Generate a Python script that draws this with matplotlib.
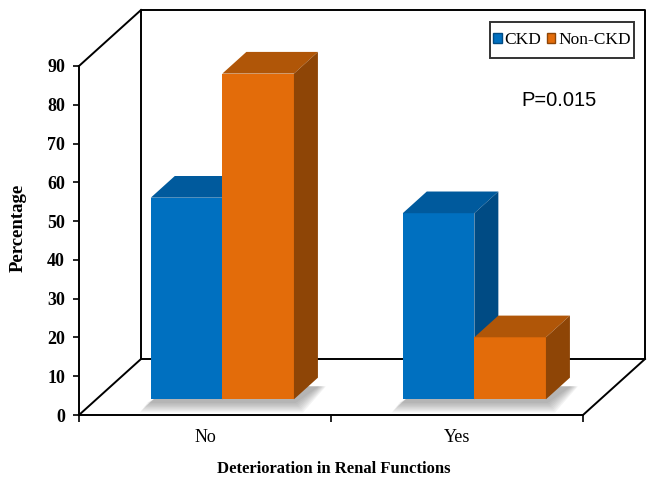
import matplotlib.pyplot as plt
from matplotlib.patches import Polygon, Patch, Rectangle
import numpy as np

categories = ['No', 'Yes']
ckd = [52, 48]
non_ckd = [84, 16]
series_names = ['CKD', 'Non-CKD']
y_ticks = [0, 10, 20, 30, 40, 50, 60, 70, 80, 90]

front_cols = ['#0070C0', '#E36C0A']
top_cols = ['#005A9D', '#B05608']
side_cols = ['#004B84', '#8E4506']

serif = 'Liberation Serif'

W, H = 647, 483
fig = plt.figure(figsize=(W / 100, H / 100), dpi=100)
# front plane of the 3d box, in pixels
x0, x1, yb, yt = 79, 583, 415, 66
ax = fig.add_axes([x0 / W, (H - yb) / H, (x1 - x0) / W, (yb - yt) / H])
ax.set_xlim(-0.5, 1.5)
ax.set_ylim(0, 90)

# depth of the box in data units
DX = 62 / ((x1 - x0) / 2)
DY = 56 / ((yb - yt) / 90)
f0 = 0.28      # front of the bars, fraction of the depth
fd = 0.387     # bar depth, fraction of the depth
bdx, bdy = fd * DX, fd * DY
base = f0 * DY
bw = 0.284

line_kw = dict(color='black', lw=1.4, clip_on=False, zorder=1)
# back wall
ax.plot([-0.5 + DX, 1.5 + DX, 1.5 + DX, -0.5 + DX, -0.5 + DX],
        [DY, DY, 90 + DY, 90 + DY, DY], **line_kw)
# side wall and floor diagonals
ax.plot([-0.5, -0.5 + DX], [90, 90 + DY], **line_kw)
ax.plot([-0.5, -0.5 + DX], [0, DY], **line_kw)
ax.plot([1.5, 1.5 + DX], [0, DY], **line_kw)

x = np.arange(len(categories)) + f0 * DX


def shadow(xl, xr):
    # soft grey shadow on the floor under a group of bars
    for k in range(8):
        e = 0.004 * (k + 1)
        ey = 0.35 * (k + 1)
        pts = [(xl - 0.012 - e, base - 0.6 - ey), (xr + 0.004 + e, base - 0.6 - ey),
               (xr + bdx + e, base + bdy * 0.6), (xl + bdx - e, base + bdy * 0.6)]
        ax.add_patch(Polygon(pts, closed=True, facecolor='#606060', edgecolor='none',
                             alpha=0.07, zorder=2, clip_on=False))


def bar3d(xc, val, i):
    xl, xr = xc - bw / 2, xc + bw / 2
    top = base + val
    ax.bar(xc, val, bw, bottom=base, color=front_cols[i], zorder=3, clip_on=False)
    ax.add_patch(Polygon([(xl, top), (xr, top), (xr + bdx, top + bdy), (xl + bdx, top + bdy)],
                         closed=True, facecolor=top_cols[i], edgecolor='none', zorder=3,
                         clip_on=False))
    ax.add_patch(Polygon([(xr, base), (xr + bdx, base + bdy), (xr + bdx, top + bdy), (xr, top)],
                         closed=True, facecolor=side_cols[i], edgecolor='none', zorder=3,
                         clip_on=False))


for j in range(len(categories)):
    shadow(x[j] - bw, x[j] + bw)
    bar3d(x[j] - bw / 2, ckd[j], 0)
    bar3d(x[j] + bw / 2, non_ckd[j], 1)

for s in ['top', 'right']:
    ax.spines[s].set_visible(False)
for s in ['left', 'bottom']:
    ax.spines[s].set_linewidth(1.4)
    ax.spines[s].set_zorder(1)

ax.set_yticks(y_ticks)
ax.set_yticklabels([str(t) for t in y_ticks], fontfamily=serif, fontweight='bold', fontsize=13)
ax.tick_params(axis='y', direction='out', length=4, width=1.2, pad=6)
ax.set_xticks([-0.5, 0.5, 1.5])
ax.set_xticklabels([])
ax.set_xticks([0, 1], minor=True)
ax.set_xticklabels(categories, minor=True, fontfamily=serif, fontsize=13)
ax.tick_params(axis='x', which='major', direction='out', length=5, width=1.2)
ax.tick_params(axis='x', which='minor', length=0, pad=10)
ax.patch.set_alpha(0)

fig.text(18 / W, 1 - 228 / H, 'Percentage', rotation=90, ha='center', va='center',
         fontfamily=serif, fontweight='bold', fontsize=13.5)
fig.text(334 / W, 1 - 469 / H, 'Deterioration in Renal Functions', ha='center', va='center',
         fontfamily=serif, fontweight='bold', fontsize=12)
fig.text(559 / W, 1 - 100 / H, 'P=0.015', ha='center', va='center',
         fontfamily='Liberation Sans', fontsize=14.5)

# legend box
fig.patches.append(Rectangle((490 / W, 1 - 58 / H), 144 / W, 36 / H, transform=fig.transFigure,
                             facecolor='white', edgecolor='#333333', linewidth=1.4, zorder=4))
handles = [Patch(facecolor=front_cols[i], edgecolor=side_cols[i]) for i in range(2)]
leg = fig.legend(handles, series_names, loc='center', bbox_to_anchor=(562 / W, 1 - 40 / H),
                 ncol=2, frameon=False, borderaxespad=0, borderpad=0,
                 handlelength=0.5, handleheight=0.5, handletextpad=0.15, columnspacing=0.3,
                 prop={'family': serif, 'size': 12.5})
leg.set_zorder(5)

fig.savefig('out.png', dpi=100)
